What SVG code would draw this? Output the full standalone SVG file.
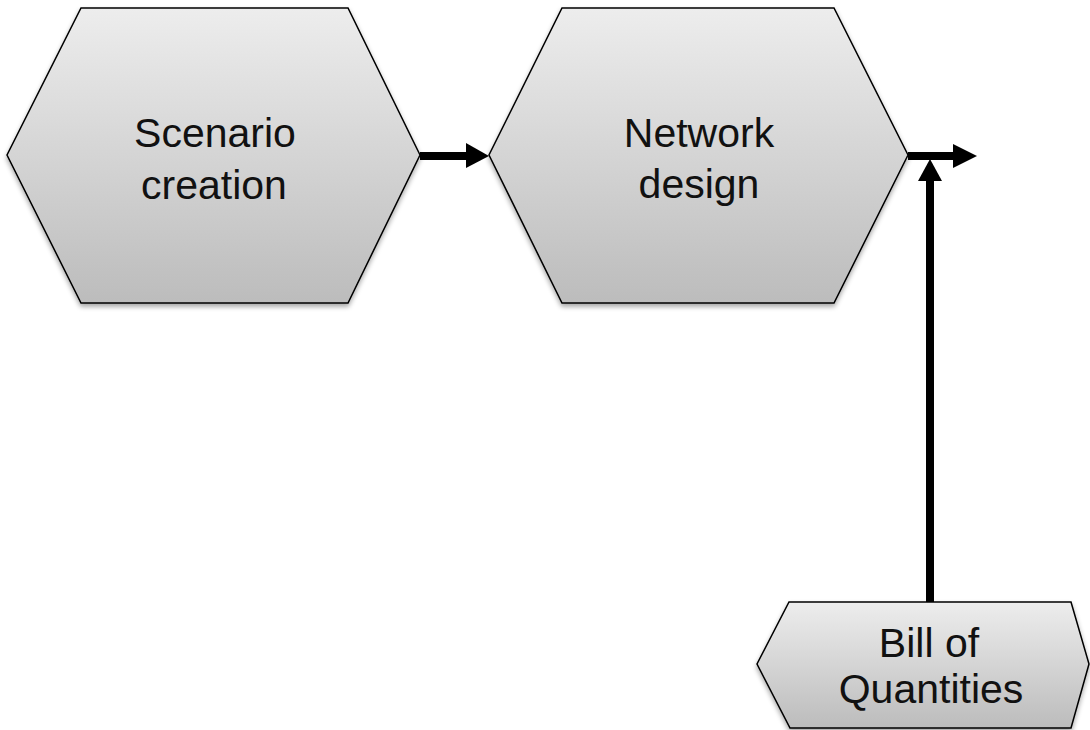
<svg xmlns="http://www.w3.org/2000/svg" width="1090" height="730" viewBox="0 0 1090 730">
  <defs>
    <linearGradient id="g" x1="0" y1="0" x2="0" y2="1">
      <stop offset="0" stop-color="#ededed"/>
      <stop offset="1" stop-color="#bcbcbc"/>
    </linearGradient>
    <filter id="sh" x="-10%" y="-10%" width="120%" height="125%">
      <feGaussianBlur in="SourceAlpha" stdDeviation="2.5"/>
      <feOffset dx="0" dy="3" result="b"/>
      <feComponentTransfer><feFuncA type="linear" slope="0.35"/></feComponentTransfer>
      <feMerge><feMergeNode/><feMergeNode in="SourceGraphic"/></feMerge>
    </filter>
  </defs>
  <style>
    .hex { fill: url(#g); stroke: #000; stroke-width: 1.5; filter: url(#sh); }
    .lbl { font-family: "Liberation Sans", Arial, sans-serif; font-size: 41px; fill: #111; text-anchor: middle; }
    .con { stroke: #000; stroke-width: 8; fill: none; }
    .head { fill: #000; }
  </style>
  <rect width="1090" height="730" fill="#fff"/>
  <g id="scenario-creation">
    <polygon class="hex" points="81,8 348,8 420,155 348,303 81,303 7,155"/>
    <text class="lbl" x="215" y="147">Scenario</text>
    <text class="lbl" x="214" y="199">creation</text>
  </g>
  <g id="network-design">
    <polygon class="hex" points="562,8 834,8 908,155 834,303 562,303 489,155"/>
    <text class="lbl" x="699" y="147">Network</text>
    <text class="lbl" x="699" y="198">design</text>
  </g>
  <g id="bill-of-quantities">
    <polygon class="hex" points="789,602 1071,602 1089,664 1071,728 790,728 757,664"/>
    <text class="lbl" x="929" y="657">Bill of</text>
    <text class="lbl" x="931" y="703">Quantities</text>
  </g>
  <g id="connectors">
    <line class="con" x1="420" y1="156" x2="468" y2="156"/>
    <polygon class="head" points="466,143 489,156 466,168"/>
    <line class="con" x1="908" y1="156" x2="955" y2="156"/>
    <polygon class="head" points="953,144 977,156 953,168"/>
    <line class="con" x1="930" y1="602" x2="930" y2="178"/>
    <polygon class="head" points="918,181 930,159 942,181"/>
  </g>
</svg>
